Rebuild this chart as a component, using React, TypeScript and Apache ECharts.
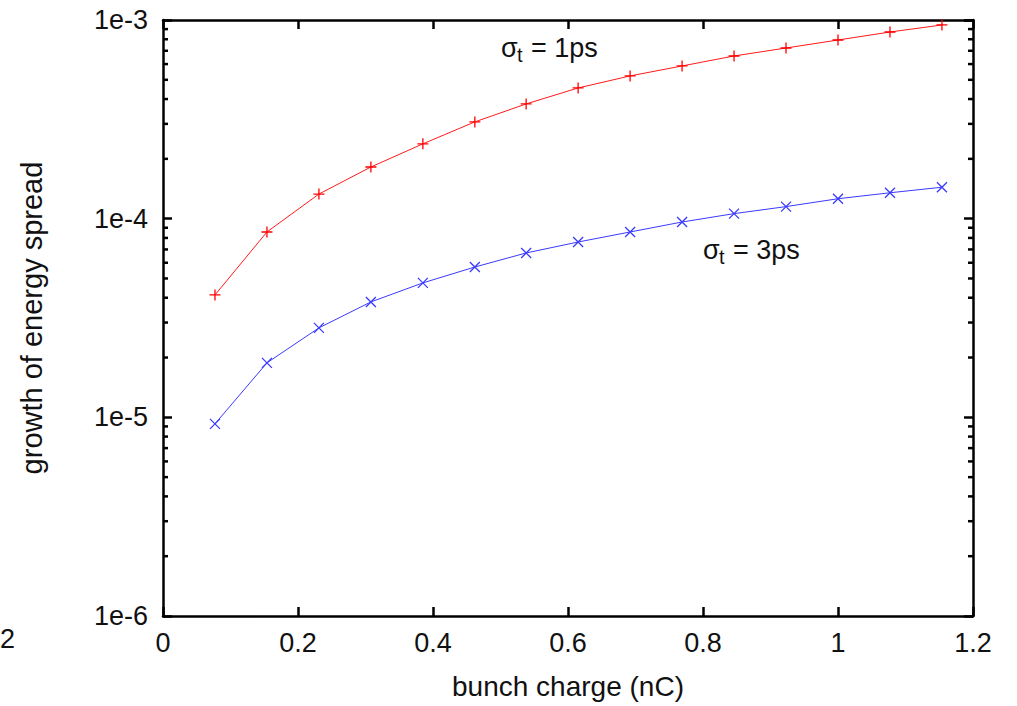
import React, { useEffect, useRef } from "react";
import * as echarts from "echarts";

const X_VALUES = [0.077, 0.154, 0.231, 0.308, 0.385, 0.462, 0.538, 0.615, 0.692, 0.769, 0.846, 0.923, 1.0, 1.077, 1.154];
const SIGMA_1PS = [4.13e-5, 8.57e-5, 1.33e-4, 1.82e-4, 2.38e-4, 3.07e-4, 3.78e-4, 4.55e-4, 5.23e-4, 5.87e-4, 6.59e-4, 7.23e-4, 7.93e-4, 8.7e-4, 9.44e-4];
const SIGMA_3PS = [9.27e-6, 1.88e-5, 2.82e-5, 3.81e-5, 4.75e-5, 5.71e-5, 6.72e-5, 7.63e-5, 8.57e-5, 9.62e-5, 1.06e-4, 1.15e-4, 1.26e-4, 1.35e-4, 1.44e-4];
const MINOR_TICKS = [
  2e-6, 3e-6, 4e-6, 5e-6, 6e-6, 7e-6, 8e-6, 9e-6,
  2e-5, 3e-5, 4e-5, 5e-5, 6e-5, 7e-5, 8e-5, 9e-5,
  2e-4, 3e-4, 4e-4, 5e-4, 6e-4, 7e-4, 8e-4, 9e-4,
];
const X_NAME = "bunch charge (nC)";
const Y_NAME = "growth of energy spread";

const FONT = "'Liberation Sans', Arial, sans-serif";
const FS = 27;

export default function App() {
  const ref = useRef<HTMLDivElement>(null);
  useEffect(() => {
    if (!ref.current) return;
    const chart = echarts.init(ref.current, undefined, { renderer: "svg" });
    const axisLine = { show: true, onZero: false, lineStyle: { color: "#000", width: 2.5 } };
    const majorTick = { show: true, inside: true, length: 9, lineStyle: { color: "#000", width: 2.5 } };
    const plus = "path://M0,5 L10,5 M5,0 L5,10";
    const cross = "path://M0,0 L10,10 M0,10 L10,0";
    chart.setOption({
      animation: false,
      grid: { left: 163, top: 20, right: 44, bottom: 90 },
      xAxis: [
        {
          type: "value",
          min: 0,
          max: 1.2,
          interval: 0.2,
          axisLine,
          axisTick: majorTick,
          splitLine: { show: false },
          axisLabel: { color: "#111", fontSize: FS, fontFamily: FONT, margin: 13 },
          name: X_NAME,
          nameLocation: "middle",
          nameGap: 56,
          nameTextStyle: { color: "#111", fontSize: 28, fontFamily: FONT },
        },
        {
          type: "value",
          position: "top",
          min: 0,
          max: 1.2,
          interval: 0.2,
          axisLine,
          axisTick: majorTick,
          splitLine: { show: false },
          axisLabel: { show: false },
        },
      ],
      yAxis: [
        {
          type: "log",
          logBase: 10,
          min: 1e-6,
          max: 1e-3,
          axisLine,
          axisTick: majorTick,
          splitLine: { show: false },
          axisLabel: {
            color: "#111",
            fontSize: FS,
            fontFamily: FONT,
            margin: 15,
            formatter: (v: number) => "1e" + Math.round(Math.log10(v)),
          },
          name: Y_NAME,
          nameLocation: "middle",
          nameGap: 117,
          nameTextStyle: { color: "#111", fontSize: 29, fontFamily: FONT },
        },
        {
          type: "log",
          logBase: 10,
          position: "right",
          min: 1e-6,
          max: 1e-3,
          axisLine,
          axisTick: majorTick,
          splitLine: { show: false },
          axisLabel: { show: false },
        },
      ],
      series: [
        {
          type: "line",
          data: X_VALUES.map((x, i) => [x, SIGMA_1PS[i]]),
          lineStyle: { color: "#ff1a1a", width: 1 },
          symbol: plus,
          symbolSize: 11,
          itemStyle: { color: "none", borderColor: "#ff0000", borderWidth: 1.3 },
          showSymbol: true,
          z: 3,
        },
        {
          type: "line",
          data: X_VALUES.map((x, i) => [x, SIGMA_3PS[i]]),
          lineStyle: { color: "#3a3aff", width: 1 },
          symbol: cross,
          symbolSize: 10,
          itemStyle: { color: "none", borderColor: "#3a3aff", borderWidth: 1.3 },
          showSymbol: true,
          z: 3,
        },
        {
          type: "custom",
          data: MINOR_TICKS.map((v) => [0, v]),
          clip: false,
          silent: true,
          renderItem: (params: any, api: any) => {
            const y = api.coord([0, api.value(1)])[1];
            const cs = params.coordSys;
            const style = { stroke: "#000", lineWidth: 2.5 };
            return {
              type: "group",
              children: [
                { type: "line", shape: { x1: cs.x, y1: y, x2: cs.x + 5, y2: y }, style },
                { type: "line", shape: { x1: cs.x + cs.width - 5, y1: y, x2: cs.x + cs.width, y2: y }, style },
              ],
            };
          },
        },
      ],
      graphic: [
        { type: "text", left: 0, top: 625, style: { text: "2", font: `${FS}px ${FONT}`, fill: "#111" } },
        {
          type: "group",
          left: 501,
          top: 34,
          children: [
            { type: "text", x: 0, y: 0, style: { text: "σ", font: `${FS}px ${FONT}`, fill: "#111" } },
            { type: "text", x: 16, y: 11, style: { text: "t", font: `20px ${FONT}`, fill: "#111" } },
            { type: "text", x: 30, y: 0, style: { text: "= 1ps", font: `${FS}px ${FONT}`, fill: "#111" } },
          ],
        },
        {
          type: "group",
          left: 703,
          top: 236,
          children: [
            { type: "text", x: 0, y: 0, style: { text: "σ", font: `${FS}px ${FONT}`, fill: "#111" } },
            { type: "text", x: 16, y: 11, style: { text: "t", font: `20px ${FONT}`, fill: "#111" } },
            { type: "text", x: 30, y: 0, style: { text: "= 3ps", font: `${FS}px ${FONT}`, fill: "#111" } },
          ],
        },
      ],
    });
    return () => chart.dispose();
  }, []);
  return (
    <div
      ref={ref}
      style={{ position: "absolute", left: 0, top: 0, width: 1017, height: 706, background: "#fff" }}
    />
  );
}
